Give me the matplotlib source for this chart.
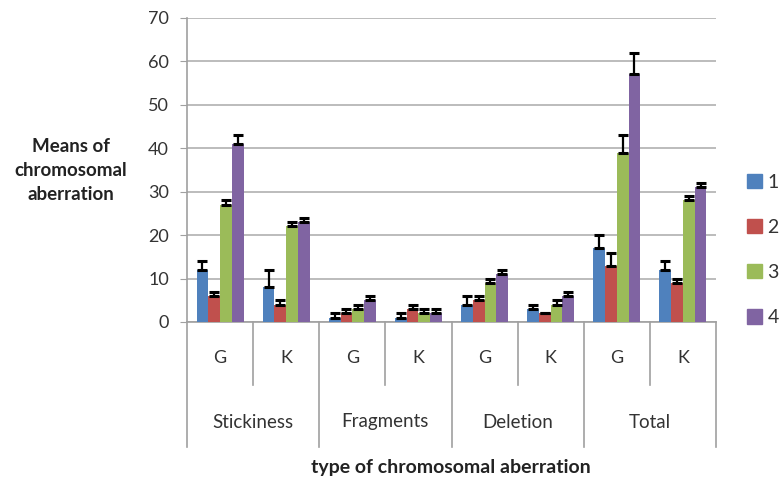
import numpy as np
import matplotlib.pyplot as plt
from matplotlib.patches import Rectangle

plt.rcParams['font.family'] = ['Lato', 'DejaVu Sans']

groups = ['Stickiness', 'Fragments', 'Deletion', 'Total']
subs = ['G', 'K']
series = ['1', '2', '3', '4']
colors = ['#4F81BD', '#C0504D', '#9BBB59', '#8064A2']

# means per series, order: Stk G, Stk K, Frag G, Frag K, Del G, Del K, Tot G, Tot K
s1 = [12, 8, 1, 1, 4, 3, 17, 12]
s2 = [6, 4, 2, 3, 5, 2, 13, 9]
s3 = [27, 22, 3, 2, 9, 4, 39, 28]
s4 = [41, 23, 5, 2, 11, 6, 57, 31]
e1 = [2, 4, 1, 1, 2, 1, 3, 2]
e2 = [1, 1, 1, 1, 1, 0, 3, 1]
e3 = [1, 1, 1, 1, 1, 1, 4, 1]
e4 = [2, 1, 1, 1, 1, 1, 5, 1]
values = [s1, s2, s3, s4]
errors = [e1, e2, e3, e4]

fig = plt.figure(figsize=(7.79, 4.79), dpi=100)
ax = fig.add_axes([187/779, 1 - 322/479, (716-187)/779, (322-18)/479])

n = len(s1)
x = np.arange(n)
w = 0.178
for i in range(4):
    pos = x + (i - 1.5) * w
    ax.bar(pos, values[i], w, color=colors[i], label=series[i], zorder=3)
    ax.errorbar(pos, values[i], yerr=[np.zeros(n), errors[i]], fmt='none',
                ecolor='black', elinewidth=1.6, capsize=3.5, capthick=2.2, zorder=4)

ax.set_xlim(-0.5, n - 0.5)
ax.set_ylim(0, 70)
ax.set_yticks(range(0, 71, 10))
ax.yaxis.grid(True, color='#b0b0b0', linewidth=1.2, zorder=0)
ax.set_axisbelow(True)
for s in ['top', 'right']:
    ax.spines[s].set_visible(False)
for s in ['left', 'bottom']:
    ax.spines[s].set_color('#a0a0a0')
    ax.spines[s].set_linewidth(1.2)
ax.tick_params(axis='y', length=5, color='#a0a0a0', labelsize=13, pad=8, labelcolor='#333333')
ax.set_xticks([])

# hierarchical category axis
trans = ax.get_xaxis_transform()
def ypx(p):
    return 1 - (p - 18) / (322 - 18)
for b in range(n + 1):
    xb = b - 0.5
    y_end = 447 if b % 2 == 0 else 385
    ax.plot([xb, xb], [0, ypx(y_end)], color='#a0a0a0', lw=1.2,
            transform=trans, clip_on=False)
for k in range(n):
    ax.text(k, ypx(358), subs[k % 2], transform=trans, ha='center', va='center',
            fontsize=13, color='#333333')
for g, name in enumerate(groups):
    ax.text(2 * g + 0.5, ypx(422), name, transform=trans, ha='center', va='center',
            fontsize=13.5, color='#333333')

fig.text(451/779, 1 - 468/479, 'type of chromosomal aberration', ha='center', va='center',
         fontsize=14, fontweight='bold', color='#222222')
fig.text(71/779, 1 - 171/479, 'Means of\nchromosomal\naberration', ha='center', va='center',
         fontsize=13.5, fontweight='bold', color='#222222', linespacing=1.5)

handles = [Rectangle((0, 0), 1, 1, color=c) for c in colors]
fig.legend(handles, series, loc='center left', bbox_to_anchor=(747/779, 1 - 250/479),
           frameon=False, fontsize=14, handlelength=0.75, handleheight=0.75,
           handletextpad=0.3, labelspacing=1.45, borderpad=0, borderaxespad=0,
           labelcolor='#333333')

fig.savefig('out.png', dpi=100)
